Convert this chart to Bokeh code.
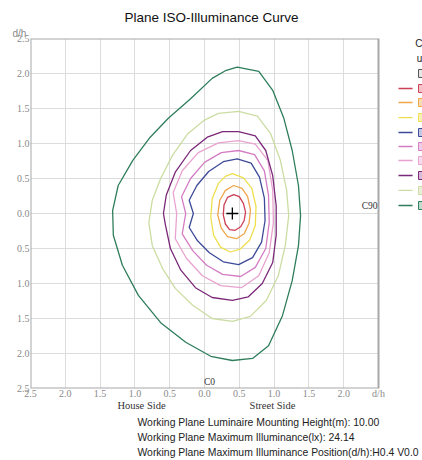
from bokeh.plotting import figure
from bokeh.models import FixedTicker, Label, Title, LinearAxis
from bokeh.embed import file_html
from bokeh.resources import INLINE

# ---------------- data ----------------
ticks = [-2.5, -2.0, -1.5, -1.0, -0.5, 0.0, 0.5, 1.0, 1.5, 2.0, 2.5]
x_tick_labels = ["2.5", "2.0", "1.5", "1.0", "0.5", "0.0", "0.5", "1.0", "1.5", "2.0", "d/h"]
y_tick_labels = ["2.5", "2.0", "1.5", "1.0", "0.5", "0.0", "0.5", "1.0", "1.5", "2.0", "2.5"]
side_ticks = [-0.905, 0.977]
side_labels = ["House Side", "Street Side"]

max_x = [0.4]
max_y = [0.0]

c1_x = [0.42, 0.50, 0.56, 0.59, 0.57, 0.52, 0.44, 0.36, 0.30, 0.27, 0.28, 0.33]
c1_y = [0.27, 0.24, 0.14, 0.02, -0.10, -0.19, -0.24, -0.23, -0.15, -0.02, 0.12, 0.23]

c2_x = [0.42, 0.54, 0.62, 0.66, 0.64, 0.57, 0.46, 0.33, 0.24, 0.19, 0.22, 0.30]
c2_y = [0.40, 0.36, 0.24, 0.05, -0.14, -0.29, -0.36, -0.33, -0.21, -0.02, 0.19, 0.33]

c3_x = [0.40, 0.56, 0.68, 0.74, 0.73, 0.65, 0.51, 0.37, 0.23, 0.13, 0.09, 0.11, 0.20, 0.30]
c3_y = [0.57, 0.51, 0.36, 0.10, -0.17, -0.38, -0.51, -0.55, -0.48, -0.31, -0.05, 0.21, 0.43, 0.53]

c4_x = [0.47, 0.67, 0.79, 0.86, 0.87, 0.82, 0.69, 0.49, 0.27, 0.07, -0.10, -0.22, -0.16, -0.22, -0.11, 0.06, 0.27]
c4_y = [0.78, 0.72, 0.52, 0.22, -0.10, -0.41, -0.63, -0.73, -0.69, -0.56, -0.39, -0.20, 0.00, 0.19, 0.40, 0.60, 0.74]

c5_x = [0.49, 0.72, 0.86, 0.92, 0.93, 0.88, 0.73, 0.52, 0.26, 0.03, -0.17, -0.32, -0.27, -0.33, -0.20, 0.00, 0.24]
c5_y = [0.90, 0.84, 0.61, 0.26, -0.13, -0.50, -0.77, -0.90, -0.87, -0.74, -0.53, -0.29, 0.00, 0.24, 0.50, 0.73, 0.87]

c6_x = [0.49, 0.73, 0.91, 0.98, 0.99, 0.93, 0.78, 0.53, 0.23, -0.03, -0.26, -0.42, -0.40, -0.45, -0.32, -0.09, 0.20]
c6_y = [1.04, 0.99, 0.76, 0.33, -0.13, -0.56, -0.89, -1.06, -1.03, -0.89, -0.64, -0.36, 0.00, 0.30, 0.61, 0.87, 1.01]

c7_x = [0.49, 0.73, 0.88, 0.98, 1.03, 1.03, 0.98, 0.83, 0.63, 0.40, 0.11, -0.13, -0.34, -0.49, -0.56, -0.59, -0.55, -0.42, -0.20, 0.04, 0.26]
c7_y = [1.17, 1.11, 0.90, 0.54, 0.11, -0.31, -0.70, -1.00, -1.19, -1.24, -1.20, -1.06, -0.81, -0.50, -0.17, 0.00, 0.26, 0.59, 0.90, 1.09, 1.17]

c8_x = [0.49, 0.76, 0.95, 1.09, 1.18, 1.21, 1.16, 1.06, 0.89, 0.66, 0.40, 0.11, -0.17, -0.42, -0.60, -0.75, -0.80, -0.75, -0.63, -0.46, -0.24, -0.01, 0.20]
c8_y = [1.46, 1.39, 1.14, 0.76, 0.33, -0.03, -0.46, -0.89, -1.24, -1.47, -1.54, -1.50, -1.31, -1.07, -0.79, -0.46, -0.13, 0.19, 0.50, 0.83, 1.14, 1.33, 1.43]

c9_x = [0.47, 0.78, 0.98, 1.14, 1.26, 1.35, 1.38, 1.35, 1.26, 1.12, 0.92, 0.69, 0.40, 0.09, -0.27, -0.63, -0.95, -1.18, -1.31, -1.32, -1.24, -1.03, -0.78, -0.52, -0.20, 0.11, 0.30]
c9_y = [2.09, 2.03, 1.76, 1.36, 0.90, 0.40, -0.03, -0.46, -0.96, -1.46, -1.89, -2.07, -2.10, -2.04, -1.84, -1.56, -1.17, -0.74, -0.31, 0.04, 0.40, 0.76, 1.09, 1.36, 1.64, 1.93, 2.04]

contour_colors = ["#cc3f55", "#f0a64a", "#eedf4e", "#3d4a98", "#d47cc4",
                  "#e8a2cf", "#7a2878", "#cbdda2", "#2e7d5b"]
box_fills = ["#f3c4c8", "#f8dcb4", "#f7f1b8", "#c4c8e4", "#efcde8",
             "#f6dcec", "#d8bcd8", "#e9f0d8", "#c2dccd"]

contours = [(c1_x, c1_y), (c2_x, c2_y), (c3_x, c3_y), (c4_x, c4_y), (c5_x, c5_y),
            (c6_x, c6_y), (c7_x, c7_y), (c8_x, c8_y), (c9_x, c9_y)]

# legend row positions (d/h units of the chart's vertical scale)
leg_y = [1.786, 1.586, 1.371, 1.157, 0.957, 0.757, 0.543, 0.329, 0.114]

# ---------------- figure ----------------
# the frame is widened to the canvas edge so that the (cut-off) legend on the
# right can be drawn; the visible chart box is drawn from the axis extents
p = figure(width=422, height=460, x_range=(-2.5, 3.132), y_range=(-2.5, 2.5),
           output_backend="svg", toolbar_location=None, title=None,
           min_border_left=30, min_border_right=0, min_border_top=38, min_border_bottom=72)
p.background_fill_color = "white"
p.border_fill_color = "white"
p.outline_line_color = None

xax = p.xaxis[0]
yax = p.yaxis[0]
xax.ticker = FixedTicker(ticks=ticks)
yax.ticker = FixedTicker(ticks=ticks)
p.xgrid.ticker = FixedTicker(ticks=ticks)
p.ygrid.ticker = FixedTicker(ticks=ticks)
xax.major_label_overrides = {t: s for t, s in zip(ticks, x_tick_labels)}
yax.major_label_overrides = {t: s for t, s in zip(ticks, y_tick_labels)}
for ax in (xax, yax):
    ax.axis_line_color = None
    ax.major_tick_line_color = None
    ax.minor_tick_line_color = None
    ax.major_tick_out = 0
    ax.major_tick_in = 0
    ax.major_label_text_font = "Liberation Serif"
    ax.major_label_text_font_size = "10px"
    ax.major_label_text_color = "#8a8a8a"
    ax.major_label_standoff = 1
xax.major_label_standoff = -1

side_axis = LinearAxis(ticker=FixedTicker(ticks=side_ticks),
                       major_label_overrides={t: s for t, s in zip(side_ticks, side_labels)},
                       axis_line_color=None, major_tick_line_color=None, minor_tick_line_color=None,
                       major_tick_out=0, major_tick_in=0, major_label_standoff=-2,
                       major_label_text_font="Liberation Serif", major_label_text_font_size="10.5px",
                       major_label_text_color="#333333")
p.add_layout(side_axis, "below")

p.grid.grid_line_color = "#dcdcdc"
p.grid.grid_line_width = 1
try:
    p.ygrid.cross_bounds = (ticks[0], ticks[-1])
except Exception:
    p.ygrid.grid_line_color = None
    p.segment(x0=[ticks[0]] * len(ticks), x1=[ticks[-1]] * len(ticks), y0=ticks, y1=ticks,
              line_color="#dcdcdc", line_width=1)

# chart box
p.quad(left=[ticks[0]], right=[ticks[-1]], bottom=[ticks[0]], top=[ticks[-1]],
       fill_color=None, line_color="#a8a8a8", line_width=2)

for (cx, cy), col in zip(contours, contour_colors):
    p.patch(cx, cy, fill_color=None, line_color=col, line_width=1.3)

p.scatter(max_x, max_y, marker="cross", size=12, line_color="black", line_width=1.3)

# titles above (first added sits closest to the frame)
p.add_layout(Title(text="d/h", align="left", offset=-18, standoff=0,
                   text_font="Liberation Sans", text_font_size="10px",
                   text_color="#8a8a8a", text_font_style="normal"), "above")
p.add_layout(Title(text="Plane ISO-Illuminance Curve", align="left", offset=94, standoff=2,
                   text_font="Liberation Sans", text_font_size="13.5px",
                   text_color="#111111", text_font_style="normal"), "above")

# info lines below
for line in ["Working Plane Luminaire Mounting Height(m): 10.00",
             "Working Plane Maximum Illuminance(lx): 24.14",
             "Working Plane Maximum Illuminance Position(d/h):H0.4 V0.0"]:
    p.add_layout(Title(text=line, align="left", offset=107, standoff=2,
                       text_font="Liberation Sans", text_font_size="10.4px",
                       text_color="#222222", text_font_style="normal"), "below")

# labels inside the chart box
p.add_layout(Label(x=2.486, y=0.114, text="C90", text_font="Liberation Serif", text_font_size="9.5px",
                   text_align="right", text_baseline="middle", text_color="#333333"))
p.add_layout(Label(x=0.072, y=-2.40, text="C0", text_font="Liberation Serif", text_font_size="9.5px",
                   text_align="center", text_baseline="middle", text_color="#333333"))

# legend at the right edge (cut off in the reference)
p.add_layout(Label(x=3.13, y=2.43, text="C", text_font="Liberation Sans", text_font_size="10px",
                   text_align="right", text_baseline="middle", text_color="#222222"))
p.add_layout(Label(x=3.13, y=2.214, text="u", text_font="Liberation Sans", text_font_size="10px",
                   text_align="right", text_baseline="middle", text_color="#222222"))
p.quad(left=[3.075], right=[3.2], bottom=[2.0 - 0.057], top=[2.0 + 0.057],
       fill_color="#e8e8e8", line_color="#555555", line_width=1)
p.segment(x0=[2.787] * len(leg_y), x1=[2.989] * len(leg_y), y0=leg_y, y1=leg_y,
          line_color=contour_colors, line_width=1.3)
p.quad(left=[3.075] * len(leg_y), right=[3.2] * len(leg_y),
       bottom=[v - 0.057 for v in leg_y], top=[v + 0.057 for v in leg_y],
       fill_color=box_fills, line_color=contour_colors, line_width=1)

open("out.html", "w").write(file_html(p, INLINE))
